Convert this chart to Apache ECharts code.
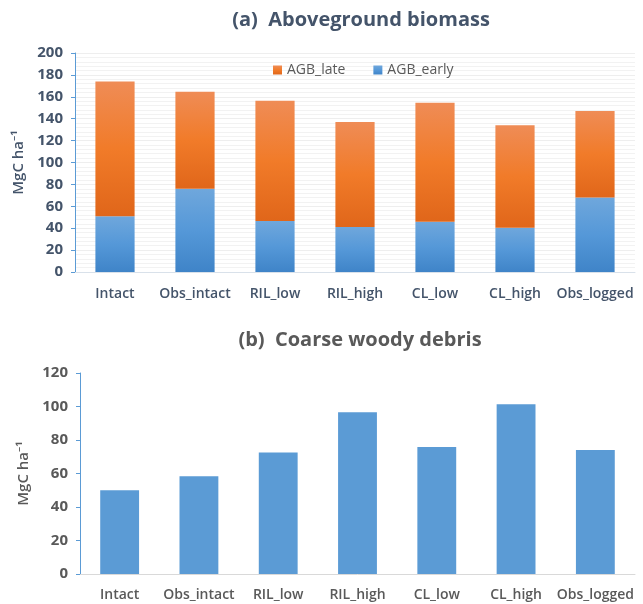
<!DOCTYPE html>
<html><head><meta charset="utf-8">
<script src="https://cdn.jsdelivr.net/npm/echarts@6/dist/echarts.min.js"></script>
<style>html,body{margin:0;padding:0;background:#fff}#c{width:643px;height:604px}</style>
</head><body><div id="c"></div>
<script>
const categories = ['Intact','Obs_intact','RIL_low','RIL_high','CL_low','CL_high','Obs_logged'];
const agbEarly = [51, 76, 46.5, 41, 46, 40.5, 68];
const agbLate = [123, 88.5, 110, 96, 108.5, 93.5, 79];
const cwd = [50, 58.3, 72.6, 96.5, 75.8, 101.3, 74];
const agbTicks = [0, 200, 20];
const cwdTicks = [0, 120, 20];

const font = '"Open Sans", "Noto Sans", sans-serif';
const chart = echarts.init(document.getElementById('c'));
function grad(top, bottom){
  return {type:'linear',x:0,y:0,x2:0,y2:1,colorStops:[{offset:0,color:top},{offset:0.5,color:bottom[0]},{offset:1,color:bottom[1]}]};
}
chart.setOption({
  animation:false,
  backgroundColor:'#fff',
  title:[
    {text:'(a)  Aboveground biomass', left:356, top:5, textAlign:'center',
     textStyle:{fontFamily:font, fontSize:20, fontWeight:'bold', color:'#44546A'}},
    {text:'(b)  Coarse woody debris', left:355, top:325, textAlign:'center',
     textStyle:{fontFamily:font, fontSize:20, fontWeight:'bold', color:'#595959'}}
  ],
  legend:{left:268, top:58, itemWidth:9, itemHeight:9, itemGap:28, icon:'rect',
    data:['AGB_late','AGB_early'],
    textStyle:{fontFamily:font, fontSize:14, color:'#595959'}},
  grid:[
    {left:75, right:8, top:53, bottom:332},
    {left:80, right:8, top:373, bottom:30}
  ],
  xAxis:[
    {type:'category', gridIndex:0, data:categories,
     axisLine:{lineStyle:{color:'#D9E1EA'}}, axisTick:{show:false},
     axisLabel:{margin:15, fontFamily:font, fontSize:14, fontWeight:600, color:'#44546A', interval:0}},
    {type:'category', gridIndex:1, data:categories,
     axisLine:{lineStyle:{color:'#D9D9D9'}}, axisTick:{show:false},
     axisLabel:{margin:14, fontFamily:font, fontSize:14, fontWeight:600, color:'#595959', interval:0}}
  ],
  yAxis:[
    {type:'value', gridIndex:0, min:agbTicks[0], max:agbTicks[1], interval:agbTicks[2],
     name:'MgC ha\u207B\u00B9', nameLocation:'middle', nameGap:44,
     nameTextStyle:{fontFamily:font, fontSize:15, fontWeight:600, color:'#44546A'},
     axisLine:{show:true, lineStyle:{color:'#5B9BD5'}},
     axisTick:{show:true, length:4, lineStyle:{color:'#5B9BD5'}},
     axisLabel:{margin:12, fontFamily:font, fontSize:15, fontWeight:'bold', color:'#44546A'},
     splitLine:{show:true, lineStyle:{color:'#EEEEEE'}},
     minorTick:{show:false, splitNumber:5},
     minorSplitLine:{show:true, lineStyle:{color:'#F2F2F2'}}},
    {type:'value', gridIndex:1, min:cwdTicks[0], max:cwdTicks[1], interval:cwdTicks[2],
     name:'MgC ha\u207B\u00B9', nameLocation:'middle', nameGap:44,
     nameTextStyle:{fontFamily:font, fontSize:15, fontWeight:600, color:'#595959'},
     axisLine:{show:true, lineStyle:{color:'#5B9BD5'}},
     axisTick:{show:true, length:4, lineStyle:{color:'#5B9BD5'}},
     axisLabel:{margin:12, fontFamily:font, fontSize:15, fontWeight:'bold', color:'#595959'},
     splitLine:{show:false}}
  ],
  series:[
    {name:'AGB_early', type:'bar', stack:'agb', xAxisIndex:0, yAxisIndex:0, data:agbEarly,
     barWidth:'49%', itemStyle:{color:grad('#6FA7DC',['#5598D8','#3F84C8'])}},
    {name:'AGB_late', type:'bar', stack:'agb', xAxisIndex:0, yAxisIndex:0, data:agbLate,
     barWidth:'49%', itemStyle:{color:grad('#EF8C56',['#F17B29','#E0661A'])}},
    {name:'CWD', type:'bar', xAxisIndex:1, yAxisIndex:1, data:cwd,
     barWidth:'49%', itemStyle:{color:'#5B9BD5'}}
  ]
});
</script></body></html>
